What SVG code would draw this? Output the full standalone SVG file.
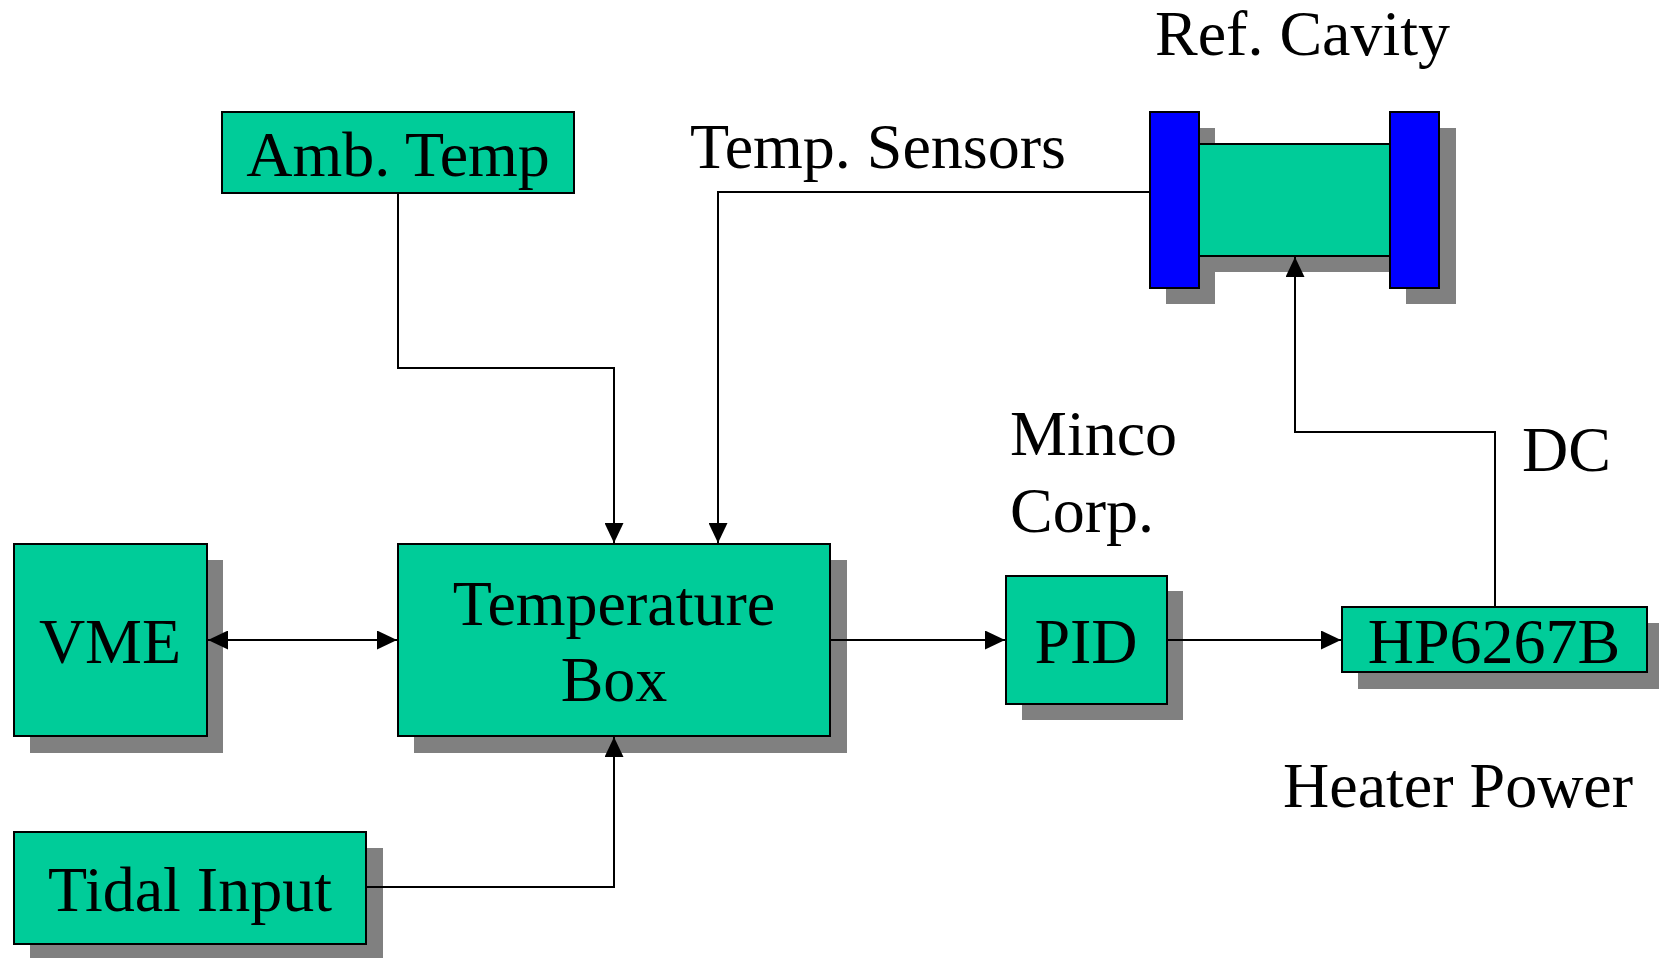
<svg xmlns="http://www.w3.org/2000/svg" width="1659" height="958" viewBox="0 0 1659 958">
<style>
.box{fill:#00CC99;stroke:#000;stroke-width:2}
.blue{fill:#0000FF;stroke:#000;stroke-width:2}
.sh{fill:#808080;stroke:none}
.t{font-family:"Liberation Serif","Times New Roman",serif;font-size:64px;fill:#000}
.c{fill:none;stroke:#000;stroke-width:2}
</style>
<defs>
<marker id="ah" markerUnits="userSpaceOnUse" markerWidth="20" markerHeight="19" refX="20" refY="9.5" orient="auto-start-reverse" viewBox="0 0 20 19">
<path d="M0,0 L20,9.5 L0,19 z" fill="#000"/>
</marker>
</defs>
<rect width="1659" height="958" fill="#fff"/>

<g id="labels">
<text class="t" x="1155" y="55">Ref. Cavity</text>
<text class="t" x="690" y="168">Temp. Sensors</text>
<text class="t" x="1010" y="455">Minco</text>
<text class="t" x="1010" y="532">Corp.</text>
<text class="t" x="1522" y="471">DC</text>
<text class="t" x="1283" y="807">Heater Power</text>
</g>

<g id="amb-temp">
<rect class="box" x="222" y="112" width="352" height="81"/>
<text class="t" x="398" y="176" text-anchor="middle">Amb. Temp</text>
</g>

<g id="ref-cavity">
<rect class="sh" x="1166" y="128" width="49" height="176"/>
<rect class="sh" x="1406" y="128" width="50" height="176"/>
<rect class="sh" x="1215" y="160" width="191" height="112"/>
<rect class="box" x="1199" y="144" width="191" height="112"/>
<rect class="blue" x="1150" y="112" width="49" height="176"/>
<rect class="blue" x="1390" y="112" width="49" height="176"/>
</g>

<g id="vme">
<rect class="sh" x="30" y="560" width="193" height="193"/>
<rect class="box" x="14" y="544" width="193" height="192"/>
<text class="t" x="110" y="663" text-anchor="middle">VME</text>
</g>

<g id="temperature-box">
<rect class="sh" x="414" y="560" width="433" height="193"/>
<rect class="box" x="398" y="544" width="432" height="192"/>
<text class="t" x="614" y="625" text-anchor="middle">Temperature</text>
<text class="t" x="614" y="701" text-anchor="middle">Box</text>
</g>

<g id="tidal-input">
<rect class="sh" x="30" y="848" width="353" height="110"/>
<rect class="box" x="14" y="832" width="352" height="112"/>
<text class="t" x="190" y="911" text-anchor="middle">Tidal Input</text>
</g>

<g id="pid">
<rect class="sh" x="1022" y="591" width="161" height="129"/>
<rect class="box" x="1006" y="576" width="161" height="128"/>
<text class="t" x="1086" y="663" text-anchor="middle">PID</text>
</g>

<g id="hp6267b">
<rect class="sh" x="1358" y="623" width="301" height="66"/>
<rect class="box" x="1342" y="607" width="305" height="65"/>
<text class="t" x="1494" y="663" text-anchor="middle">HP6267B</text>
</g>

<g id="connectors">
<path class="c" d="M398,193 V368 H614 V543" marker-end="url(#ah)"/>
<path class="c" d="M1150,192 H718 V543" marker-end="url(#ah)"/>
<path class="c" d="M208,640 H397" marker-start="url(#ah)" marker-end="url(#ah)"/>
<path class="c" d="M367,887 H614 V737" marker-end="url(#ah)"/>
<path class="c" d="M831,640 H1005" marker-end="url(#ah)"/>
<path class="c" d="M1168,640 H1341" marker-end="url(#ah)"/>
<path class="c" d="M1495,606 V432 H1295 V257" marker-end="url(#ah)"/>
</g>
</svg>
